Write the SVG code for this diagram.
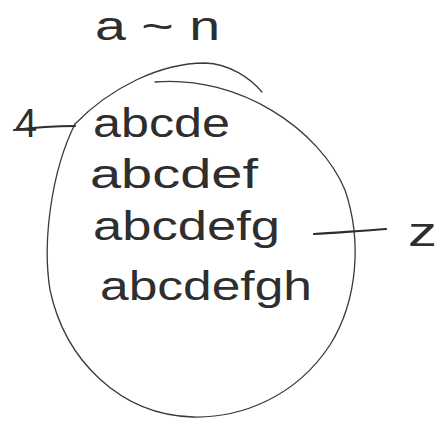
<svg xmlns="http://www.w3.org/2000/svg" width="445" height="421" viewBox="0 0 445 421">
<style>
.t{font-family:"Liberation Sans","DejaVu Sans",sans-serif;fill:#2e2e2e;font-size:40px}
.ln{fill:none;stroke:#3a3a3a;stroke-width:1.3;stroke-linecap:round}
.tk{fill:none;stroke:#2e2e2e;stroke-width:2.2;stroke-linecap:round}
</style>
<rect width="445" height="421" fill="#fff"/>
<g id="title"><text class="t" x="95" y="40" font-size="36" textLength="125" lengthAdjust="spacingAndGlyphs">a ~ n</text></g>
<g id="set">
<path class="ln" d="M75,124 C110,88 160,63 205,63 C230,64 250,78 262,92"/>
<path class="ln" d="M155,82 C240,75 320,130 345,190 C362,240 358,300 330,345 C295,398 240,418 193,417 C120,415 65,360 50,290 C42,240 52,170 75,124"/>
</g>
<g id="items">
<text class="t" x="93" y="137" textLength="137" lengthAdjust="spacingAndGlyphs">abcde</text>
<text class="t" x="90" y="188" textLength="168" lengthAdjust="spacingAndGlyphs">abcdef</text>
<text class="t" x="93" y="240" textLength="187" lengthAdjust="spacingAndGlyphs">abcdefg</text>
<text class="t" x="100" y="300" textLength="212" lengthAdjust="spacingAndGlyphs">abcdefgh</text>
</g>
<g id="label-4"><text class="t" x="15" y="137" font-size="30">4</text></g>
<g id="label-z"><text class="t" x="408" y="246" font-size="44" textLength="29" lengthAdjust="spacingAndGlyphs">z</text></g>
<g id="connectors">
<path class="tk" d="M14,130 C30,128 55,126 75,126"/>
<path class="tk" d="M314,234 C340,232 365,231 386,229"/>
</g>
</svg>
